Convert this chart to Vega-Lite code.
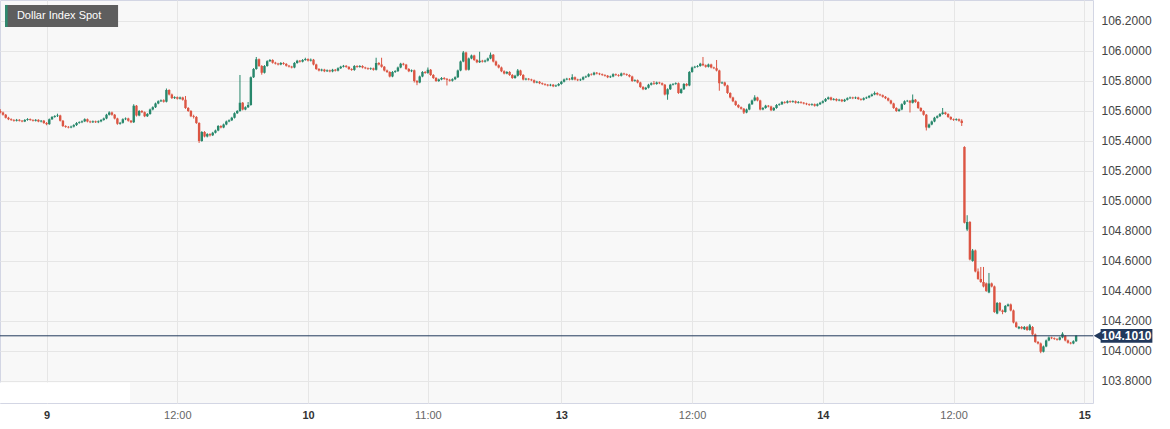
{
"$schema":"https://vega.github.io/schema/vega-lite/v6.json",
"width":1093,"height":403,
"autosize":{"type":"none"},
"padding":{"left":0,"top":0,"right":77,"bottom":26},
"background":"#ffffff",
"config":{"view":{"fill":"#f8f8f8","stroke":"#d3d6e4","strokeWidth":1},"font":"Liberation Sans","scale":{"continuousPadding":0}},
"datasets":{"candles":[
{"k":-17,"o":105.600,"c":105.590,"h":105.612,"l":105.584},
{"k":-16,"o":105.590,"c":105.575,"h":105.596,"l":105.569},
{"k":-15,"o":105.575,"c":105.555,"h":105.580,"l":105.550},
{"k":-14,"o":105.555,"c":105.545,"h":105.561,"l":105.539},
{"k":-13,"o":105.545,"c":105.540,"h":105.551,"l":105.534},
{"k":-12,"o":105.540,"c":105.535,"h":105.546,"l":105.529},
{"k":-11,"o":105.535,"c":105.541,"h":105.547,"l":105.530},
{"k":-10,"o":105.541,"c":105.535,"h":105.546,"l":105.530},
{"k":-9,"o":105.535,"c":105.530,"h":105.540,"l":105.525},
{"k":-8,"o":105.530,"c":105.540,"h":105.546,"l":105.526},
{"k":-7,"o":105.540,"c":105.546,"h":105.552,"l":105.535},
{"k":-6,"o":105.546,"c":105.540,"h":105.550,"l":105.535},
{"k":-5,"o":105.540,"c":105.535,"h":105.545,"l":105.530},
{"k":-4,"o":105.535,"c":105.541,"h":105.546,"l":105.530},
{"k":-3,"o":105.541,"c":105.530,"h":105.545,"l":105.525},
{"k":-2,"o":105.530,"c":105.535,"h":105.540,"l":105.524},
{"k":-1,"o":105.535,"c":105.520,"h":105.540,"l":105.514},
{"k":0,"o":105.520,"c":105.512,"h":105.526,"l":105.505},
{"k":1,"o":105.512,"c":105.545,"h":105.550,"l":105.508},
{"k":2,"o":105.545,"c":105.560,"h":105.566,"l":105.540},
{"k":3,"o":105.560,"c":105.566,"h":105.572,"l":105.555},
{"k":4,"o":105.566,"c":105.570,"h":105.582,"l":105.560},
{"k":5,"o":105.570,"c":105.535,"h":105.575,"l":105.530},
{"k":6,"o":105.535,"c":105.500,"h":105.540,"l":105.493},
{"k":7,"o":105.500,"c":105.494,"h":105.505,"l":105.488},
{"k":8,"o":105.494,"c":105.490,"h":105.500,"l":105.484},
{"k":9,"o":105.490,"c":105.496,"h":105.502,"l":105.485},
{"k":10,"o":105.496,"c":105.506,"h":105.512,"l":105.490},
{"k":11,"o":105.506,"c":105.520,"h":105.526,"l":105.500},
{"k":12,"o":105.520,"c":105.525,"h":105.531,"l":105.515},
{"k":13,"o":105.525,"c":105.531,"h":105.537,"l":105.519},
{"k":14,"o":105.531,"c":105.545,"h":105.551,"l":105.526},
{"k":15,"o":105.545,"c":105.530,"h":105.550,"l":105.524},
{"k":16,"o":105.530,"c":105.525,"h":105.536,"l":105.519},
{"k":17,"o":105.525,"c":105.531,"h":105.537,"l":105.520},
{"k":18,"o":105.531,"c":105.525,"h":105.536,"l":105.520},
{"k":19,"o":105.525,"c":105.531,"h":105.537,"l":105.519},
{"k":20,"o":105.531,"c":105.540,"h":105.546,"l":105.525},
{"k":21,"o":105.540,"c":105.550,"h":105.556,"l":105.535},
{"k":22,"o":105.550,"c":105.575,"h":105.581,"l":105.545},
{"k":23,"o":105.575,"c":105.590,"h":105.598,"l":105.570},
{"k":24,"o":105.590,"c":105.575,"h":105.596,"l":105.569},
{"k":25,"o":105.575,"c":105.550,"h":105.580,"l":105.544},
{"k":26,"o":105.550,"c":105.515,"h":105.555,"l":105.508},
{"k":27,"o":105.515,"c":105.521,"h":105.527,"l":105.509},
{"k":28,"o":105.521,"c":105.545,"h":105.551,"l":105.516},
{"k":29,"o":105.545,"c":105.550,"h":105.557,"l":105.539},
{"k":30,"o":105.550,"c":105.535,"h":105.555,"l":105.529},
{"k":31,"o":105.535,"c":105.525,"h":105.540,"l":105.519},
{"k":32,"o":105.525,"c":105.635,"h":105.645,"l":105.520},
{"k":33,"o":105.635,"c":105.570,"h":105.640,"l":105.563},
{"k":34,"o":105.570,"c":105.600,"h":105.606,"l":105.565},
{"k":35,"o":105.600,"c":105.592,"h":105.606,"l":105.586},
{"k":36,"o":105.592,"c":105.565,"h":105.597,"l":105.559},
{"k":37,"o":105.565,"c":105.580,"h":105.586,"l":105.560},
{"k":38,"o":105.580,"c":105.610,"h":105.616,"l":105.575},
{"k":39,"o":105.610,"c":105.625,"h":105.631,"l":105.604},
{"k":40,"o":105.625,"c":105.650,"h":105.656,"l":105.620},
{"k":41,"o":105.650,"c":105.665,"h":105.671,"l":105.645},
{"k":42,"o":105.665,"c":105.671,"h":105.677,"l":105.660},
{"k":43,"o":105.671,"c":105.662,"h":105.678,"l":105.656},
{"k":44,"o":105.662,"c":105.740,"h":105.750,"l":105.657},
{"k":45,"o":105.740,"c":105.710,"h":105.745,"l":105.704},
{"k":46,"o":105.710,"c":105.686,"h":105.716,"l":105.680},
{"k":47,"o":105.686,"c":105.692,"h":105.698,"l":105.680},
{"k":48,"o":105.692,"c":105.682,"h":105.697,"l":105.676},
{"k":49,"o":105.682,"c":105.690,"h":105.696,"l":105.677},
{"k":50,"o":105.690,"c":105.675,"h":105.695,"l":105.669},
{"k":51,"o":105.675,"c":105.620,"h":105.700,"l":105.614},
{"k":52,"o":105.620,"c":105.600,"h":105.626,"l":105.594},
{"k":53,"o":105.600,"c":105.565,"h":105.606,"l":105.559},
{"k":54,"o":105.565,"c":105.560,"h":105.575,"l":105.550},
{"k":55,"o":105.560,"c":105.520,"h":105.566,"l":105.514},
{"k":56,"o":105.520,"c":105.400,"h":105.525,"l":105.387},
{"k":57,"o":105.400,"c":105.460,"h":105.466,"l":105.395},
{"k":58,"o":105.460,"c":105.430,"h":105.466,"l":105.424},
{"k":59,"o":105.430,"c":105.446,"h":105.452,"l":105.424},
{"k":60,"o":105.446,"c":105.438,"h":105.452,"l":105.430},
{"k":61,"o":105.438,"c":105.455,"h":105.461,"l":105.433},
{"k":62,"o":105.455,"c":105.470,"h":105.476,"l":105.450},
{"k":63,"o":105.470,"c":105.500,"h":105.506,"l":105.465},
{"k":64,"o":105.500,"c":105.490,"h":105.505,"l":105.484},
{"k":65,"o":105.490,"c":105.510,"h":105.516,"l":105.485},
{"k":66,"o":105.510,"c":105.530,"h":105.536,"l":105.505},
{"k":67,"o":105.530,"c":105.538,"h":105.544,"l":105.525},
{"k":68,"o":105.538,"c":105.555,"h":105.561,"l":105.533},
{"k":69,"o":105.555,"c":105.585,"h":105.591,"l":105.550},
{"k":70,"o":105.585,"c":105.600,"h":105.606,"l":105.580},
{"k":71,"o":105.600,"c":105.655,"h":105.840,"l":105.595},
{"k":72,"o":105.655,"c":105.610,"h":105.660,"l":105.604},
{"k":73,"o":105.610,"c":105.625,"h":105.631,"l":105.605},
{"k":74,"o":105.625,"c":105.640,"h":105.660,"l":105.620},
{"k":75,"o":105.640,"c":105.825,"h":105.830,"l":105.635},
{"k":76,"o":105.825,"c":105.880,"h":105.886,"l":105.820},
{"k":77,"o":105.880,"c":105.945,"h":105.960,"l":105.875},
{"k":78,"o":105.945,"c":105.900,"h":105.950,"l":105.894},
{"k":79,"o":105.900,"c":105.855,"h":105.906,"l":105.842},
{"k":80,"o":105.855,"c":105.900,"h":105.906,"l":105.850},
{"k":81,"o":105.900,"c":105.932,"h":105.938,"l":105.895},
{"k":82,"o":105.932,"c":105.940,"h":105.946,"l":105.927},
{"k":83,"o":105.940,"c":105.922,"h":105.945,"l":105.916},
{"k":84,"o":105.922,"c":105.916,"h":105.928,"l":105.910},
{"k":85,"o":105.916,"c":105.910,"h":105.921,"l":105.904},
{"k":86,"o":105.910,"c":105.920,"h":105.926,"l":105.905},
{"k":87,"o":105.920,"c":105.914,"h":105.926,"l":105.908},
{"k":88,"o":105.914,"c":105.902,"h":105.919,"l":105.896},
{"k":89,"o":105.902,"c":105.896,"h":105.907,"l":105.890},
{"k":90,"o":105.896,"c":105.890,"h":105.901,"l":105.884},
{"k":91,"o":105.890,"c":105.920,"h":105.926,"l":105.885},
{"k":92,"o":105.920,"c":105.935,"h":105.941,"l":105.915},
{"k":93,"o":105.935,"c":105.929,"h":105.940,"l":105.923},
{"k":94,"o":105.929,"c":105.940,"h":105.946,"l":105.924},
{"k":95,"o":105.940,"c":105.946,"h":105.955,"l":105.935},
{"k":96,"o":105.946,"c":105.936,"h":105.951,"l":105.930},
{"k":97,"o":105.936,"c":105.942,"h":105.950,"l":105.930},
{"k":98,"o":105.942,"c":105.910,"h":105.947,"l":105.904},
{"k":99,"o":105.910,"c":105.880,"h":105.915,"l":105.874},
{"k":100,"o":105.880,"c":105.870,"h":105.886,"l":105.864},
{"k":101,"o":105.870,"c":105.876,"h":105.882,"l":105.864},
{"k":102,"o":105.876,"c":105.865,"h":105.881,"l":105.859},
{"k":103,"o":105.865,"c":105.871,"h":105.877,"l":105.860},
{"k":104,"o":105.871,"c":105.864,"h":105.876,"l":105.858},
{"k":105,"o":105.864,"c":105.875,"h":105.881,"l":105.858},
{"k":106,"o":105.875,"c":105.869,"h":105.880,"l":105.863},
{"k":107,"o":105.869,"c":105.885,"h":105.891,"l":105.864},
{"k":108,"o":105.885,"c":105.895,"h":105.901,"l":105.880},
{"k":109,"o":105.895,"c":105.901,"h":105.907,"l":105.890},
{"k":110,"o":105.901,"c":105.894,"h":105.906,"l":105.888},
{"k":111,"o":105.894,"c":105.880,"h":105.899,"l":105.874},
{"k":112,"o":105.880,"c":105.874,"h":105.885,"l":105.868},
{"k":113,"o":105.874,"c":105.900,"h":105.906,"l":105.868},
{"k":114,"o":105.900,"c":105.894,"h":105.905,"l":105.888},
{"k":115,"o":105.894,"c":105.900,"h":105.906,"l":105.889},
{"k":116,"o":105.900,"c":105.890,"h":105.905,"l":105.884},
{"k":117,"o":105.890,"c":105.885,"h":105.895,"l":105.879},
{"k":118,"o":105.885,"c":105.880,"h":105.890,"l":105.874},
{"k":119,"o":105.880,"c":105.884,"h":105.890,"l":105.874},
{"k":120,"o":105.884,"c":105.875,"h":105.889,"l":105.869},
{"k":121,"o":105.875,"c":105.920,"h":105.955,"l":105.870},
{"k":122,"o":105.920,"c":105.910,"h":105.926,"l":105.904},
{"k":123,"o":105.910,"c":105.895,"h":105.955,"l":105.889},
{"k":124,"o":105.895,"c":105.870,"h":105.900,"l":105.864},
{"k":125,"o":105.870,"c":105.860,"h":105.876,"l":105.854},
{"k":126,"o":105.860,"c":105.830,"h":105.865,"l":105.824},
{"k":127,"o":105.830,"c":105.860,"h":105.866,"l":105.825},
{"k":128,"o":105.860,"c":105.866,"h":105.872,"l":105.854},
{"k":129,"o":105.866,"c":105.890,"h":105.896,"l":105.860},
{"k":130,"o":105.890,"c":105.915,"h":105.921,"l":105.885},
{"k":131,"o":105.915,"c":105.909,"h":105.921,"l":105.903},
{"k":132,"o":105.909,"c":105.880,"h":105.914,"l":105.874},
{"k":133,"o":105.880,"c":105.865,"h":105.886,"l":105.859},
{"k":134,"o":105.865,"c":105.871,"h":105.877,"l":105.859},
{"k":135,"o":105.871,"c":105.800,"h":105.876,"l":105.790},
{"k":136,"o":105.800,"c":105.790,"h":105.806,"l":105.772},
{"k":137,"o":105.790,"c":105.830,"h":105.836,"l":105.785},
{"k":138,"o":105.830,"c":105.860,"h":105.866,"l":105.825},
{"k":139,"o":105.860,"c":105.854,"h":105.866,"l":105.848},
{"k":140,"o":105.854,"c":105.875,"h":105.890,"l":105.848},
{"k":141,"o":105.875,"c":105.840,"h":105.880,"l":105.834},
{"k":142,"o":105.840,"c":105.820,"h":105.846,"l":105.814},
{"k":143,"o":105.820,"c":105.800,"h":105.826,"l":105.794},
{"k":144,"o":105.800,"c":105.810,"h":105.816,"l":105.794},
{"k":145,"o":105.810,"c":105.820,"h":105.826,"l":105.805},
{"k":146,"o":105.820,"c":105.814,"h":105.826,"l":105.808},
{"k":147,"o":105.814,"c":105.808,"h":105.820,"l":105.770},
{"k":148,"o":105.808,"c":105.802,"h":105.814,"l":105.796},
{"k":149,"o":105.802,"c":105.812,"h":105.818,"l":105.796},
{"k":150,"o":105.812,"c":105.825,"h":105.831,"l":105.806},
{"k":151,"o":105.825,"c":105.870,"h":105.876,"l":105.820},
{"k":152,"o":105.870,"c":105.930,"h":105.936,"l":105.865},
{"k":153,"o":105.930,"c":105.990,"h":106.000,"l":105.925},
{"k":154,"o":105.990,"c":105.875,"h":105.995,"l":105.869},
{"k":155,"o":105.875,"c":105.950,"h":105.956,"l":105.870},
{"k":156,"o":105.950,"c":105.970,"h":105.976,"l":105.945},
{"k":157,"o":105.970,"c":105.940,"h":105.975,"l":105.934},
{"k":158,"o":105.940,"c":105.925,"h":105.946,"l":105.919},
{"k":159,"o":105.925,"c":105.935,"h":105.995,"l":105.920},
{"k":160,"o":105.935,"c":105.929,"h":105.941,"l":105.923},
{"k":161,"o":105.929,"c":105.936,"h":105.942,"l":105.923},
{"k":162,"o":105.936,"c":105.950,"h":105.956,"l":105.930},
{"k":163,"o":105.950,"c":105.975,"h":105.990,"l":105.945},
{"k":164,"o":105.975,"c":105.930,"h":105.980,"l":105.924},
{"k":165,"o":105.930,"c":105.905,"h":105.936,"l":105.899},
{"k":166,"o":105.905,"c":105.890,"h":105.911,"l":105.884},
{"k":167,"o":105.890,"c":105.865,"h":105.896,"l":105.859},
{"k":168,"o":105.865,"c":105.850,"h":105.871,"l":105.844},
{"k":169,"o":105.850,"c":105.860,"h":105.866,"l":105.845},
{"k":170,"o":105.860,"c":105.840,"h":105.866,"l":105.834},
{"k":171,"o":105.840,"c":105.820,"h":105.846,"l":105.814},
{"k":172,"o":105.820,"c":105.835,"h":105.841,"l":105.815},
{"k":173,"o":105.835,"c":105.870,"h":105.880,"l":105.830},
{"k":174,"o":105.870,"c":105.840,"h":105.875,"l":105.834},
{"k":175,"o":105.840,"c":105.810,"h":105.846,"l":105.804},
{"k":176,"o":105.810,"c":105.815,"h":105.821,"l":105.804},
{"k":177,"o":105.815,"c":105.810,"h":105.820,"l":105.804},
{"k":178,"o":105.810,"c":105.805,"h":105.815,"l":105.799},
{"k":179,"o":105.805,"c":105.790,"h":105.810,"l":105.784},
{"k":180,"o":105.790,"c":105.795,"h":105.801,"l":105.785},
{"k":181,"o":105.795,"c":105.785,"h":105.800,"l":105.779},
{"k":182,"o":105.785,"c":105.780,"h":105.790,"l":105.774},
{"k":183,"o":105.780,"c":105.775,"h":105.785,"l":105.769},
{"k":184,"o":105.775,"c":105.770,"h":105.780,"l":105.764},
{"k":185,"o":105.770,"c":105.775,"h":105.781,"l":105.765},
{"k":186,"o":105.775,"c":105.765,"h":105.780,"l":105.759},
{"k":187,"o":105.765,"c":105.770,"h":105.776,"l":105.760},
{"k":188,"o":105.770,"c":105.780,"h":105.786,"l":105.765},
{"k":189,"o":105.780,"c":105.795,"h":105.801,"l":105.775},
{"k":190,"o":105.795,"c":105.810,"h":105.816,"l":105.790},
{"k":191,"o":105.810,"c":105.815,"h":105.821,"l":105.805},
{"k":192,"o":105.815,"c":105.810,"h":105.820,"l":105.804},
{"k":193,"o":105.810,"c":105.825,"h":105.845,"l":105.805},
{"k":194,"o":105.825,"c":105.810,"h":105.830,"l":105.804},
{"k":195,"o":105.810,"c":105.805,"h":105.815,"l":105.799},
{"k":196,"o":105.805,"c":105.810,"h":105.816,"l":105.800},
{"k":197,"o":105.810,"c":105.825,"h":105.831,"l":105.805},
{"k":198,"o":105.825,"c":105.830,"h":105.836,"l":105.820},
{"k":199,"o":105.830,"c":105.845,"h":105.851,"l":105.825},
{"k":200,"o":105.845,"c":105.842,"h":105.851,"l":105.836},
{"k":201,"o":105.842,"c":105.855,"h":105.861,"l":105.837},
{"k":202,"o":105.855,"c":105.850,"h":105.860,"l":105.844},
{"k":203,"o":105.850,"c":105.845,"h":105.855,"l":105.839},
{"k":204,"o":105.845,"c":105.840,"h":105.850,"l":105.834},
{"k":205,"o":105.840,"c":105.835,"h":105.845,"l":105.829},
{"k":206,"o":105.835,"c":105.825,"h":105.840,"l":105.819},
{"k":207,"o":105.825,"c":105.830,"h":105.836,"l":105.820},
{"k":208,"o":105.830,"c":105.845,"h":105.851,"l":105.825},
{"k":209,"o":105.845,"c":105.840,"h":105.850,"l":105.834},
{"k":210,"o":105.840,"c":105.835,"h":105.845,"l":105.829},
{"k":211,"o":105.835,"c":105.850,"h":105.856,"l":105.830},
{"k":212,"o":105.850,"c":105.845,"h":105.855,"l":105.839},
{"k":213,"o":105.845,"c":105.840,"h":105.850,"l":105.834},
{"k":214,"o":105.840,"c":105.830,"h":105.845,"l":105.824},
{"k":215,"o":105.830,"c":105.800,"h":105.835,"l":105.794},
{"k":216,"o":105.800,"c":105.805,"h":105.811,"l":105.795},
{"k":217,"o":105.805,"c":105.790,"h":105.810,"l":105.784},
{"k":218,"o":105.790,"c":105.760,"h":105.795,"l":105.754},
{"k":219,"o":105.760,"c":105.745,"h":105.766,"l":105.739},
{"k":220,"o":105.745,"c":105.755,"h":105.761,"l":105.740},
{"k":221,"o":105.755,"c":105.775,"h":105.781,"l":105.750},
{"k":222,"o":105.775,"c":105.785,"h":105.791,"l":105.770},
{"k":223,"o":105.785,"c":105.780,"h":105.800,"l":105.774},
{"k":224,"o":105.780,"c":105.790,"h":105.796,"l":105.775},
{"k":225,"o":105.790,"c":105.785,"h":105.795,"l":105.779},
{"k":226,"o":105.785,"c":105.775,"h":105.790,"l":105.769},
{"k":227,"o":105.775,"c":105.710,"h":105.780,"l":105.704},
{"k":228,"o":105.710,"c":105.745,"h":105.751,"l":105.675},
{"k":229,"o":105.745,"c":105.775,"h":105.781,"l":105.740},
{"k":230,"o":105.775,"c":105.780,"h":105.786,"l":105.770},
{"k":231,"o":105.780,"c":105.785,"h":105.791,"l":105.775},
{"k":232,"o":105.785,"c":105.720,"h":105.790,"l":105.714},
{"k":233,"o":105.720,"c":105.745,"h":105.751,"l":105.715},
{"k":234,"o":105.745,"c":105.780,"h":105.786,"l":105.740},
{"k":235,"o":105.780,"c":105.770,"h":105.786,"l":105.764},
{"k":236,"o":105.770,"c":105.860,"h":105.866,"l":105.765},
{"k":237,"o":105.860,"c":105.890,"h":105.896,"l":105.855},
{"k":238,"o":105.890,"c":105.895,"h":105.901,"l":105.885},
{"k":239,"o":105.895,"c":105.900,"h":105.906,"l":105.890},
{"k":240,"o":105.900,"c":105.915,"h":105.921,"l":105.895},
{"k":241,"o":105.915,"c":105.905,"h":105.960,"l":105.899},
{"k":242,"o":105.905,"c":105.895,"h":105.910,"l":105.889},
{"k":243,"o":105.895,"c":105.910,"h":105.916,"l":105.890},
{"k":244,"o":105.910,"c":105.890,"h":105.915,"l":105.884},
{"k":245,"o":105.890,"c":105.885,"h":105.895,"l":105.879},
{"k":246,"o":105.885,"c":105.870,"h":105.940,"l":105.864},
{"k":247,"o":105.870,"c":105.785,"h":105.875,"l":105.735},
{"k":248,"o":105.785,"c":105.790,"h":105.796,"l":105.780},
{"k":249,"o":105.790,"c":105.770,"h":105.795,"l":105.764},
{"k":250,"o":105.770,"c":105.720,"h":105.775,"l":105.714},
{"k":251,"o":105.720,"c":105.690,"h":105.725,"l":105.684},
{"k":252,"o":105.690,"c":105.665,"h":105.695,"l":105.659},
{"k":253,"o":105.665,"c":105.640,"h":105.670,"l":105.634},
{"k":254,"o":105.640,"c":105.625,"h":105.645,"l":105.619},
{"k":255,"o":105.625,"c":105.615,"h":105.630,"l":105.609},
{"k":256,"o":105.615,"c":105.590,"h":105.620,"l":105.580},
{"k":257,"o":105.590,"c":105.610,"h":105.616,"l":105.585},
{"k":258,"o":105.610,"c":105.645,"h":105.651,"l":105.605},
{"k":259,"o":105.645,"c":105.670,"h":105.676,"l":105.640},
{"k":260,"o":105.670,"c":105.690,"h":105.705,"l":105.665},
{"k":261,"o":105.690,"c":105.670,"h":105.695,"l":105.664},
{"k":262,"o":105.670,"c":105.610,"h":105.675,"l":105.604},
{"k":263,"o":105.610,"c":105.620,"h":105.626,"l":105.605},
{"k":264,"o":105.620,"c":105.635,"h":105.641,"l":105.615},
{"k":265,"o":105.635,"c":105.630,"h":105.640,"l":105.624},
{"k":266,"o":105.630,"c":105.605,"h":105.635,"l":105.599},
{"k":267,"o":105.605,"c":105.620,"h":105.626,"l":105.600},
{"k":268,"o":105.620,"c":105.640,"h":105.646,"l":105.615},
{"k":269,"o":105.640,"c":105.645,"h":105.651,"l":105.635},
{"k":270,"o":105.645,"c":105.660,"h":105.666,"l":105.640},
{"k":271,"o":105.660,"c":105.655,"h":105.665,"l":105.649},
{"k":272,"o":105.655,"c":105.665,"h":105.671,"l":105.650},
{"k":273,"o":105.665,"c":105.660,"h":105.670,"l":105.654},
{"k":274,"o":105.660,"c":105.665,"h":105.671,"l":105.655},
{"k":275,"o":105.665,"c":105.655,"h":105.670,"l":105.649},
{"k":276,"o":105.655,"c":105.660,"h":105.666,"l":105.650},
{"k":277,"o":105.660,"c":105.655,"h":105.665,"l":105.649},
{"k":278,"o":105.655,"c":105.650,"h":105.660,"l":105.644},
{"k":279,"o":105.650,"c":105.645,"h":105.655,"l":105.639},
{"k":280,"o":105.645,"c":105.640,"h":105.650,"l":105.634},
{"k":281,"o":105.640,"c":105.645,"h":105.651,"l":105.635},
{"k":282,"o":105.645,"c":105.635,"h":105.650,"l":105.629},
{"k":283,"o":105.635,"c":105.645,"h":105.651,"l":105.630},
{"k":284,"o":105.645,"c":105.655,"h":105.661,"l":105.640},
{"k":285,"o":105.655,"c":105.665,"h":105.671,"l":105.650},
{"k":286,"o":105.665,"c":105.680,"h":105.686,"l":105.660},
{"k":287,"o":105.680,"c":105.690,"h":105.696,"l":105.675},
{"k":288,"o":105.690,"c":105.675,"h":105.695,"l":105.669},
{"k":289,"o":105.675,"c":105.680,"h":105.686,"l":105.670},
{"k":290,"o":105.680,"c":105.670,"h":105.685,"l":105.664},
{"k":291,"o":105.670,"c":105.675,"h":105.681,"l":105.665},
{"k":292,"o":105.675,"c":105.665,"h":105.680,"l":105.659},
{"k":293,"o":105.665,"c":105.675,"h":105.681,"l":105.660},
{"k":294,"o":105.675,"c":105.685,"h":105.691,"l":105.670},
{"k":295,"o":105.685,"c":105.690,"h":105.696,"l":105.680},
{"k":296,"o":105.690,"c":105.685,"h":105.695,"l":105.679},
{"k":297,"o":105.685,"c":105.690,"h":105.696,"l":105.680},
{"k":298,"o":105.690,"c":105.680,"h":105.695,"l":105.674},
{"k":299,"o":105.680,"c":105.675,"h":105.685,"l":105.669},
{"k":300,"o":105.675,"c":105.685,"h":105.691,"l":105.670},
{"k":301,"o":105.685,"c":105.690,"h":105.696,"l":105.680},
{"k":302,"o":105.690,"c":105.700,"h":105.706,"l":105.685},
{"k":303,"o":105.700,"c":105.710,"h":105.716,"l":105.695},
{"k":304,"o":105.710,"c":105.720,"h":105.730,"l":105.705},
{"k":305,"o":105.720,"c":105.710,"h":105.725,"l":105.704},
{"k":306,"o":105.710,"c":105.705,"h":105.715,"l":105.699},
{"k":307,"o":105.705,"c":105.695,"h":105.710,"l":105.689},
{"k":308,"o":105.695,"c":105.685,"h":105.700,"l":105.679},
{"k":309,"o":105.685,"c":105.670,"h":105.690,"l":105.664},
{"k":310,"o":105.670,"c":105.650,"h":105.675,"l":105.644},
{"k":311,"o":105.650,"c":105.620,"h":105.655,"l":105.614},
{"k":312,"o":105.620,"c":105.600,"h":105.625,"l":105.594},
{"k":313,"o":105.600,"c":105.610,"h":105.616,"l":105.595},
{"k":314,"o":105.610,"c":105.645,"h":105.651,"l":105.605},
{"k":315,"o":105.645,"c":105.665,"h":105.671,"l":105.640},
{"k":316,"o":105.665,"c":105.668,"h":105.674,"l":105.660},
{"k":317,"o":105.668,"c":105.655,"h":105.673,"l":105.590},
{"k":318,"o":105.655,"c":105.675,"h":105.710,"l":105.650},
{"k":319,"o":105.675,"c":105.660,"h":105.680,"l":105.654},
{"k":320,"o":105.660,"c":105.620,"h":105.665,"l":105.614},
{"k":321,"o":105.620,"c":105.600,"h":105.625,"l":105.594},
{"k":322,"o":105.600,"c":105.575,"h":105.605,"l":105.569},
{"k":323,"o":105.575,"c":105.490,"h":105.580,"l":105.470},
{"k":324,"o":105.490,"c":105.510,"h":105.516,"l":105.485},
{"k":325,"o":105.510,"c":105.530,"h":105.536,"l":105.505},
{"k":326,"o":105.530,"c":105.555,"h":105.561,"l":105.525},
{"k":327,"o":105.555,"c":105.565,"h":105.571,"l":105.550},
{"k":328,"o":105.565,"c":105.580,"h":105.586,"l":105.560},
{"k":329,"o":105.580,"c":105.590,"h":105.620,"l":105.575},
{"k":330,"o":105.590,"c":105.580,"h":105.595,"l":105.574},
{"k":331,"o":105.580,"c":105.560,"h":105.585,"l":105.554},
{"k":332,"o":105.560,"c":105.545,"h":105.565,"l":105.539},
{"k":333,"o":105.545,"c":105.540,"h":105.550,"l":105.534},
{"k":334,"o":105.540,"c":105.545,"h":105.551,"l":105.535},
{"k":335,"o":105.545,"c":105.535,"h":105.550,"l":105.529},
{"k":336,"o":105.535,"c":105.520,"h":105.545,"l":105.500},
{"k":337,"o":105.360,"c":104.855,"h":105.365,"l":104.850},
{"k":338,"o":104.810,"c":104.860,"h":104.905,"l":104.800},
{"k":339,"o":104.860,"c":104.610,"h":104.866,"l":104.604},
{"k":340,"o":104.600,"c":104.670,"h":104.680,"l":104.595},
{"k":341,"o":104.670,"c":104.530,"h":104.676,"l":104.524},
{"k":342,"o":104.530,"c":104.480,"h":104.550,"l":104.474},
{"k":343,"o":104.480,"c":104.460,"h":104.560,"l":104.454},
{"k":344,"o":104.460,"c":104.430,"h":104.560,"l":104.424},
{"k":345,"o":104.450,"c":104.400,"h":104.456,"l":104.394},
{"k":346,"o":104.390,"c":104.450,"h":104.520,"l":104.385},
{"k":347,"o":104.450,"c":104.430,"h":104.456,"l":104.424},
{"k":348,"o":104.430,"c":104.260,"h":104.436,"l":104.254},
{"k":349,"o":104.250,"c":104.320,"h":104.326,"l":104.245},
{"k":350,"o":104.320,"c":104.270,"h":104.326,"l":104.264},
{"k":351,"o":104.270,"c":104.260,"h":104.276,"l":104.245},
{"k":352,"o":104.260,"c":104.300,"h":104.306,"l":104.255},
{"k":353,"o":104.300,"c":104.310,"h":104.316,"l":104.295},
{"k":354,"o":104.310,"c":104.270,"h":104.316,"l":104.264},
{"k":355,"o":104.270,"c":104.190,"h":104.276,"l":104.184},
{"k":356,"o":104.190,"c":104.160,"h":104.196,"l":104.154},
{"k":357,"o":104.150,"c":104.160,"h":104.166,"l":104.145},
{"k":358,"o":104.160,"c":104.150,"h":104.166,"l":104.144},
{"k":359,"o":104.145,"c":104.160,"h":104.166,"l":104.140},
{"k":360,"o":104.160,"c":104.140,"h":104.166,"l":104.134},
{"k":361,"o":104.140,"c":104.170,"h":104.180,"l":104.135},
{"k":362,"o":104.160,"c":104.110,"h":104.166,"l":104.104},
{"k":363,"o":104.110,"c":104.060,"h":104.116,"l":104.054},
{"k":364,"o":104.060,"c":104.050,"h":104.066,"l":104.044},
{"k":365,"o":104.050,"c":103.995,"h":104.056,"l":103.985},
{"k":366,"o":103.995,"c":104.030,"h":104.036,"l":103.990},
{"k":367,"o":104.030,"c":104.070,"h":104.076,"l":104.025},
{"k":368,"o":104.070,"c":104.090,"h":104.096,"l":104.065},
{"k":369,"o":104.090,"c":104.085,"h":104.095,"l":104.079},
{"k":370,"o":104.085,"c":104.080,"h":104.090,"l":104.074},
{"k":371,"o":104.080,"c":104.075,"h":104.085,"l":104.069},
{"k":372,"o":104.075,"c":104.090,"h":104.096,"l":104.070},
{"k":373,"o":104.090,"c":104.115,"h":104.125,"l":104.085},
{"k":374,"o":104.100,"c":104.070,"h":104.106,"l":104.064},
{"k":375,"o":104.070,"c":104.055,"h":104.076,"l":104.049},
{"k":376,"o":104.055,"c":104.050,"h":104.060,"l":104.044},
{"k":377,"o":104.050,"c":104.065,"h":104.071,"l":104.045},
{"k":378,"o":104.065,"c":104.101,"h":104.106,"l":104.060}
]},
"resolve":{"scale":{"x":"shared","y":"shared"}},
"layer":[
{"data":{"values":[{"k1":-17.1,"k2":30.65,"p1":103.653,"p2":103.79}]},
 "mark":{"type":"rect","fill":"#ffffff"},
 "encoding":{
  "x":{"field":"k1","type":"quantitative","title":null,"scale":{"domain":[-17.1,384.2],"nice":false,"zero":false,"padding":0},
   "axis":{"orient":"bottom","values":[0,48,96,140,189,237,285,333,381],"tickCount":30,"title":null,"ticks":false,"domain":false,"labelPadding":6,"labelFontSize":11,"labelFlush":false,"labelOverlap":false,"labelFont":"Liberation Sans",
    "labelExpr":"datum.value==0?'9':datum.value==48?'12:00':datum.value==96?'10':datum.value==140?'11:00':datum.value==189?'13':datum.value==237?'12:00':datum.value==285?'14':datum.value==333?'12:00':'15'",
    "labelFontWeight":{"condition":{"test":"datum.value==48||datum.value==140||datum.value==237||datum.value==333","value":"normal"},"value":"bold"},
    "labelColor":{"condition":{"test":"datum.value==48||datum.value==140||datum.value==237||datum.value==333","value":"#666666"},"value":"#333333"},
    "gridColor":"#e6e6e6","grid":true}},
  "x2":{"field":"k2"},
  "y":{"field":"p1","type":"quantitative","title":null,"scale":{"domain":[103.653,106.34],"nice":false,"zero":false,"padding":0},
   "axis":{"orient":"right","values":[103.8,104.0,104.2,104.4,104.6,104.8,105.0,105.2,105.4,105.6,105.8,106.0,106.2],"tickCount":30,"format":".4f","title":null,"ticks":false,"domain":false,"labelPadding":8,"labelFontSize":12,"labelColor":"#444444","labelFont":"Liberation Sans","labelOverlap":false,"labelFlush":false,"gridColor":"#e6e6e6","grid":true}},
  "y2":{"field":"p2"}}},
{"data":{"name":"candles"},
 "mark":{"type":"rule","strokeWidth":1},
 "encoding":{
  "x":{"field":"k","type":"quantitative","title":null},
  "y":{"field":"l","type":"quantitative","title":null},
  "y2":{"field":"h"},
  "color":{"condition":{"test":"datum.c >= datum.o","value":"#27876b"},"value":"#dc5543"}}},
{"data":{"name":"candles"},
 "mark":{"type":"bar","size":2.4},
 "encoding":{
  "x":{"field":"k","type":"quantitative","title":null},
  "y":{"field":"o","type":"quantitative","title":null},
  "y2":{"field":"c"},
  "color":{"condition":{"test":"datum.c >= datum.o","value":"#27876b"},"value":"#dc5543"}}},
{"data":{"values":[{"p":104.101}]},
 "mark":{"type":"rule","color":"#22395c","strokeWidth":1},
 "encoding":{"y":{"field":"p","type":"quantitative","title":null}}},
{"data":{"values":[{"k1":387.0,"k2":406.0,"p1":104.147,"p2":104.055}]},
 "mark":{"type":"rect","fill":"#22395c","clip":false},
 "encoding":{
  "x":{"field":"k1","type":"quantitative","title":null},
  "x2":{"field":"k2"},
  "y":{"field":"p1","type":"quantitative","title":null},
  "y2":{"field":"p2"}}},
{"data":{"values":[{"k":385.8,"p":104.101}]},
 "mark":{"type":"point","shape":"triangle-left","filled":true,"color":"#22395c","size":70,"opacity":1,"clip":false},
 "encoding":{
  "x":{"field":"k","type":"quantitative","title":null},
  "y":{"field":"p","type":"quantitative","title":null}}},
{"data":{"values":[{"k":396.5,"p":104.101,"t":"104.1010"}]},
 "mark":{"type":"text","color":"#ffffff","fontSize":12,"fontWeight":"bold","font":"Liberation Sans","align":"center","baseline":"middle","clip":false},
 "encoding":{
  "x":{"field":"k","type":"quantitative","title":null},
  "y":{"field":"p","type":"quantitative","title":null},
  "text":{"field":"t"}}},
{"data":{"values":[{"k1":-15.23,"k2":26.25,"p1":106.307,"p2":106.16}]},
 "mark":{"type":"rect","fill":"#5e5e5e"},
 "encoding":{
  "x":{"field":"k1","type":"quantitative","title":null},
  "x2":{"field":"k2"},
  "y":{"field":"p1","type":"quantitative","title":null},
  "y2":{"field":"p2"}}},
{"data":{"values":[{"k1":-15.23,"k2":-14.3,"p1":106.307,"p2":106.16}]},
 "mark":{"type":"rect","fill":"#2e8b6f"},
 "encoding":{
  "x":{"field":"k1","type":"quantitative","title":null},
  "x2":{"field":"k2"},
  "y":{"field":"p1","type":"quantitative","title":null},
  "y2":{"field":"p2"}}},
{"data":{"values":[{"k":-10.9,"p":106.233,"t":"Dollar Index Spot"}]},
 "mark":{"type":"text","color":"#ffffff","fontSize":11,"font":"Liberation Sans","align":"left","baseline":"middle"},
 "encoding":{
  "x":{"field":"k","type":"quantitative","title":null},
  "y":{"field":"p","type":"quantitative","title":null},
  "text":{"field":"t"}}}
]
}
